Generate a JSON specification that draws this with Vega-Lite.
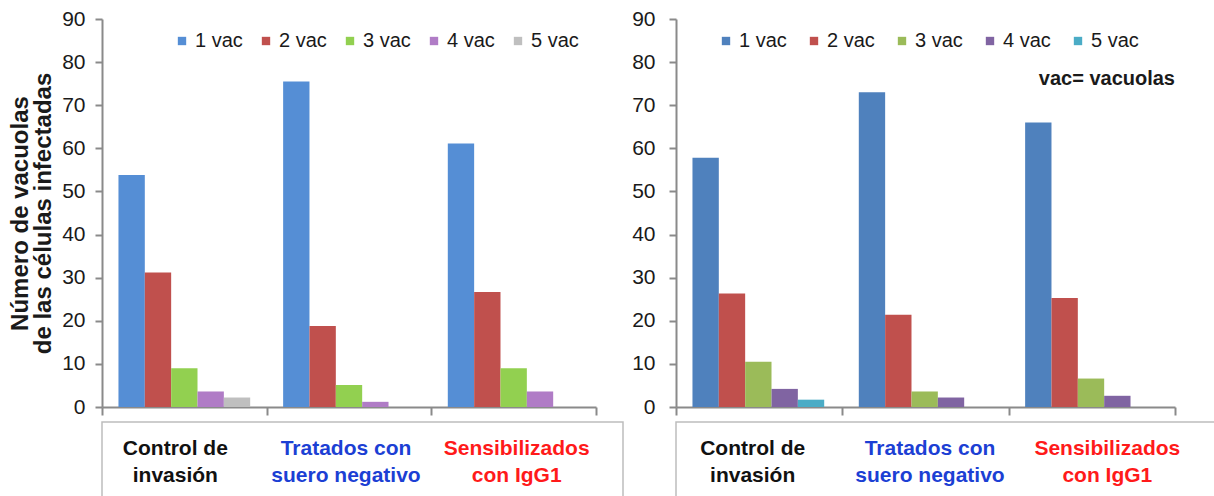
{
"$schema": "https://vega.github.io/schema/vega-lite/v6.json",
"padding": {"left": 8, "top": 8, "right": 0, "bottom": 0},
"config": {
  "view": {"stroke": null},
  "font": "Liberation Sans",
  "axis": {"domainColor": "#8a8a8a", "tickColor": "#8a8a8a", "domainWidth": 2, "tickWidth": 2, "labelColor": "#1a1a1a", "labelFont": "Liberation Sans", "labelFontSize": 21, "grid": false}
},
"datasets": {
  "left": [
    {"grupo": "Control de invasión", "vac": "1 vac", "valor": 53.8},
    {"grupo": "Control de invasión", "vac": "2 vac", "valor": 31.2},
    {"grupo": "Control de invasión", "vac": "3 vac", "valor": 9.0},
    {"grupo": "Control de invasión", "vac": "4 vac", "valor": 3.6},
    {"grupo": "Control de invasión", "vac": "5 vac", "valor": 2.2},
    {"grupo": "Tratados con suero negativo", "vac": "1 vac", "valor": 75.5},
    {"grupo": "Tratados con suero negativo", "vac": "2 vac", "valor": 18.8},
    {"grupo": "Tratados con suero negativo", "vac": "3 vac", "valor": 5.1},
    {"grupo": "Tratados con suero negativo", "vac": "4 vac", "valor": 1.2},
    {"grupo": "Sensibilizados con IgG1", "vac": "1 vac", "valor": 61.1},
    {"grupo": "Sensibilizados con IgG1", "vac": "2 vac", "valor": 26.7},
    {"grupo": "Sensibilizados con IgG1", "vac": "3 vac", "valor": 9.0},
    {"grupo": "Sensibilizados con IgG1", "vac": "4 vac", "valor": 3.6}
  ],
  "right": [
    {"grupo": "Control de invasión", "vac": "1 vac", "valor": 57.8},
    {"grupo": "Control de invasión", "vac": "2 vac", "valor": 26.3},
    {"grupo": "Control de invasión", "vac": "3 vac", "valor": 10.5},
    {"grupo": "Control de invasión", "vac": "4 vac", "valor": 4.2},
    {"grupo": "Control de invasión", "vac": "5 vac", "valor": 1.7},
    {"grupo": "Tratados con suero negativo", "vac": "1 vac", "valor": 73.0},
    {"grupo": "Tratados con suero negativo", "vac": "2 vac", "valor": 21.4},
    {"grupo": "Tratados con suero negativo", "vac": "3 vac", "valor": 3.6},
    {"grupo": "Tratados con suero negativo", "vac": "4 vac", "valor": 2.2},
    {"grupo": "Sensibilizados con IgG1", "vac": "1 vac", "valor": 66.0},
    {"grupo": "Sensibilizados con IgG1", "vac": "2 vac", "valor": 25.3},
    {"grupo": "Sensibilizados con IgG1", "vac": "3 vac", "valor": 6.6},
    {"grupo": "Sensibilizados con IgG1", "vac": "4 vac", "valor": 2.6}
  ],
  "cats": [
    {"grupo": "Control de invasión", "etiqueta": "Control de\ninvasión"},
    {"grupo": "Tratados con suero negativo", "etiqueta": "Tratados  con\nsuero  negativo"},
    {"grupo": "Sensibilizados con IgG1", "etiqueta": "Sensibilizados\ncon IgG1"}
  ]
},
"hconcat": [
  {
    "vconcat": [
      {
        "width": 494, "height": 388,
        "data": {"name": "left"},
        "mark": {"type": "bar"},
        "encoding": {
          "x": {"field": "grupo", "type": "nominal", "sort": ["Control de invasión", "Tratados con suero negativo", "Sensibilizados con IgG1"], "scale": {"paddingInner": 0, "paddingOuter": 0}, "axis": {"title": null, "labels": false, "tickBand": "extent", "tickSize": 8}},
          "xOffset": {"field": "vac", "type": "nominal", "sort": ["1 vac", "2 vac", "3 vac", "4 vac", "5 vac"], "scale": {"domain": ["1 vac", "2 vac", "3 vac", "4 vac", "5 vac"], "paddingInner": 0, "paddingOuter": 0.625}},
          "y": {"field": "valor", "type": "quantitative", "scale": {"domain": [0, 90], "nice": false}, "axis": {"values": [0, 10, 20, 30, 40, 50, 60, 70, 80, 90], "tickSize": 7, "labelPadding": 10, "title": ["Número de vacuolas", "de las células infectadas"], "titleFont": "Liberation Sans", "titleFontSize": 24, "titleFontWeight": "bold", "titleColor": "#1a1a1a", "titlePadding": 6, "titleLineHeight": 23}},
          "color": {"field": "vac", "type": "nominal", "scale": {"domain": ["1 vac", "2 vac", "3 vac", "4 vac", "5 vac"], "range": ["#558ed5", "#c0504d", "#92d050", "#b07cc6", "#bfbfbf"]}, "legend": {"orient": "none", "legendX": 70, "legendY": 12, "padding": 0, "direction": "horizontal", "columns": 5, "title": null, "symbolType": "square", "symbolSize": 70, "symbolStrokeWidth": 0, "labelFontSize": 20, "labelFont": "Liberation Sans", "labelColor": "#1a1a1a", "columnPadding": 13, "labelOffset": 3}}
        }
      },
      {
        "width": 521, "height": 78,
        "view": {"stroke": "#bdbdbd", "strokeWidth": 1.5},
        "data": {"name": "cats"},
        "mark": {"type": "text", "fontSize": 21, "fontWeight": "bold", "lineBreak": "\n", "lineHeight": 27, "baseline": "middle", "dy": -12, "font": "Liberation Sans"},
        "encoding": {
          "x": {"field": "grupo", "type": "nominal", "sort": ["Control de invasión", "Tratados con suero negativo", "Sensibilizados con IgG1"], "scale": {"range": [-12, 500], "paddingInner": 0, "paddingOuter": 0}, "axis": null},
          "text": {"field": "etiqueta"},
          "color": {"field": "grupo", "type": "nominal", "scale": {"domain": ["Control de invasión", "Tratados con suero negativo", "Sensibilizados con IgG1"], "range": ["#111111", "#1c3fd4", "#ff1a1a"]}, "legend": null}
        }
      }
    ],
    "spacing": 4,
    "resolve": {"scale": {"color": "independent", "x": "independent"}, "legend": {"color": "independent"}}
  },
  {
    "vconcat": [
      {
        "width": 499, "height": 388,
        "layer": [
          {
            "data": {"name": "right"},
            "mark": {"type": "bar"},
            "encoding": {
              "x": {"field": "grupo", "type": "nominal", "sort": ["Control de invasión", "Tratados con suero negativo", "Sensibilizados con IgG1"], "scale": {"paddingInner": 0, "paddingOuter": 0}, "axis": {"title": null, "labels": false, "tickBand": "extent", "tickSize": 8}},
              "xOffset": {"field": "vac", "type": "nominal", "sort": ["1 vac", "2 vac", "3 vac", "4 vac", "5 vac"], "scale": {"domain": ["1 vac", "2 vac", "3 vac", "4 vac", "5 vac"], "paddingInner": 0, "paddingOuter": 0.625}},
              "y": {"field": "valor", "type": "quantitative", "scale": {"domain": [0, 90], "nice": false}, "axis": {"values": [0, 10, 20, 30, 40, 50, 60, 70, 80, 90], "tickSize": 7, "labelPadding": 14, "title": null}},
              "color": {"field": "vac", "type": "nominal", "scale": {"domain": ["1 vac", "2 vac", "3 vac", "4 vac", "5 vac"], "range": ["#4f81bd", "#c0504d", "#9bbb59", "#8064a2", "#4bacc6"]}, "legend": {"orient": "none", "legendX": 40, "legendY": 12, "padding": 0, "direction": "horizontal", "columns": 5, "title": null, "symbolType": "square", "symbolSize": 70, "symbolStrokeWidth": 0, "labelFontSize": 20, "labelFont": "Liberation Sans", "labelColor": "#1a1a1a", "columnPadding": 17, "labelOffset": 3}}
            }
          },
          {
            "data": {"values": [{}]},
            "mark": {"type": "text", "align": "right", "baseline": "middle", "fontWeight": "bold", "fontSize": 20, "font": "Liberation Sans", "color": "#1a1a1a"},
            "encoding": {
              "x": {"datum": "Sensibilizados con IgG1", "bandPosition": 1},
              "y": {"datum": 76},
              "text": {"value": "vac= vacuolas"}
            }
          }
        ]
      },
      {
        "width": 539, "height": 78,
        "view": {"stroke": "#bdbdbd", "strokeWidth": 1.5},
        "data": {"name": "cats"},
        "mark": {"type": "text", "fontSize": 21, "fontWeight": "bold", "lineBreak": "\n", "lineHeight": 27, "baseline": "middle", "dy": -12, "font": "Liberation Sans"},
        "encoding": {
          "x": {"field": "grupo", "type": "nominal", "sort": ["Control de invasión", "Tratados con suero negativo", "Sensibilizados con IgG1"], "scale": {"range": [-12, 520], "paddingInner": 0, "paddingOuter": 0}, "axis": null},
          "text": {"field": "etiqueta"},
          "color": {"field": "grupo", "type": "nominal", "scale": {"domain": ["Control de invasión", "Tratados con suero negativo", "Sensibilizados con IgG1"], "range": ["#111111", "#1c3fd4", "#ff1a1a"]}, "legend": null}
        }
      }
    ],
    "spacing": 4,
    "resolve": {"scale": {"color": "independent", "x": "independent"}, "legend": {"color": "independent"}}
  }
],
"spacing": 7,
"resolve": {"scale": {"color": "independent", "x": "independent", "y": "independent"}, "legend": {"color": "independent"}}
}
